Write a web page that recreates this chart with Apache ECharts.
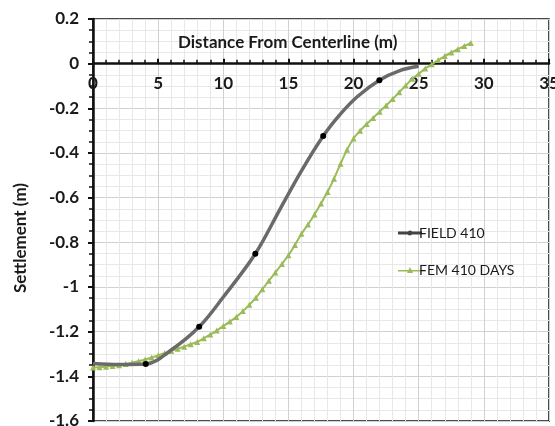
<!DOCTYPE html>
<html>
<head>
<meta charset="utf-8">
<script src="https://cdn.jsdelivr.net/npm/echarts@6/dist/echarts.min.js"></script>
<style>html,body{margin:0;padding:0;background:#fff}#c{width:555px;height:426px}</style>
</head>
<body>
<div id="c"></div>
<script>
var xTicks = [0, 5, 10, 15, 20, 25, 30, 35];
var yTicks = [0.2, 0, -0.2, -0.4, -0.6, -0.8, -1, -1.2, -1.4, -1.6];

var fieldX = [0, 2, 4.05, 6, 8.15, 10, 12.46, 14.38, 16, 17.67, 19, 20.28, 21.98, 23.5, 25.0];
var fieldY = [-1.342, -1.347, -1.345, -1.282, -1.178, -1.045, -0.851, -0.649, -0.480, -0.324, -0.225, -0.148, -0.074, -0.032, -0.012];
var fieldDot = [false, false, true, false, true, false, true, false, false, true, false, false, true, false, false];

var femX = [0, 0.5, 1, 1.5, 2, 2.5, 3, 3.5, 4, 4.5, 5, 5.5, 6, 6.5, 7, 7.5, 8, 8.5, 9, 9.5,
            10, 10.5, 11, 11.5, 12, 12.5, 13, 13.5, 14, 14.5, 15, 15.5, 16, 16.5, 17, 17.5, 18, 18.5, 19, 19.5,
            20, 20.5, 21, 21.5, 22, 22.5, 23, 23.5, 24, 24.5, 25, 25.5, 26, 26.5, 27, 27.5, 28, 28.5, 29];
var femY = [-1.360, -1.359, -1.357, -1.354, -1.350, -1.345, -1.339, -1.332, -1.325, -1.316, -1.306, -1.296, -1.287, -1.277, -1.267, -1.256, -1.246, -1.230, -1.213, -1.195,
            -1.175, -1.155, -1.134, -1.108, -1.080, -1.048, -1.010, -0.972, -0.935, -0.897, -0.858, -0.812, -0.762, -0.720, -0.675, -0.626, -0.575, -0.515, -0.448, -0.385,
            -0.335, -0.300, -0.270, -0.243, -0.215, -0.187, -0.158, -0.128, -0.098, -0.068, -0.045, -0.022, -0.003, 0.016, 0.034, 0.050, 0.065, 0.079, 0.093];

var fieldData = fieldX.map(function (x, i) {
  var d = { value: [x, fieldY[i]] };
  if (!fieldDot[i]) d.symbol = 'none';
  return d;
});
var femData = femX.map(function (x, i) { return [x, femY[i]]; });

var FONT = 'Lato';
var GRID_TOP = 19, GRID_BOTTOM = 5, H = 426;
var plotH = H - GRID_TOP - GRID_BOTTOM;
var zeroOffset = -plotH * (0 - (-1.6)) / (0.2 - (-1.6));

var chart = echarts.init(document.getElementById('c'), null, { renderer: 'canvas' });
chart.setOption({
  animation: false,
  backgroundColor: '#ffffff',
  title: {
    text: 'Distance From Centerline (m)',
    left: 173, top: 29,
    textStyle: { fontFamily: FONT, fontSize: 17, fontWeight: 'bold', color: '#1a1a1a' }
  },
  graphic: [{
    type: 'text', x: 21, y: 238, rotation: Math.PI / 2,
    style: { text: 'Settlement (m)', font: 'bold 17px Lato', fill: '#1a1a1a', textAlign: 'center', textVerticalAlign: 'middle' }
  }],
  legend: {
    orient: 'vertical', left: 393, top: 221, itemGap: 23, itemWidth: 24, itemHeight: 16,
    textStyle: { fontFamily: FONT, fontSize: 14, color: '#1a1a1a', padding: [0, 0, 0, -8] },
    data: [
      { name: 'FIELD 410', icon: 'path://M0,7 L24,7 L24,10 L0,10 Z M12,6 A2.5,2.5 0 1 1 11.99,6 Z', itemStyle: { color: '#444' } },
      { name: 'FEM 410 DAYS', icon: 'path://M0,8 L24,8 L24,9.5 L0,9.5 Z M12,5 L15,11 L9,11 Z' }
    ]
  },
  grid: { left: 93, right: 6, top: GRID_TOP, bottom: GRID_BOTTOM, show: true, borderColor: '#111', borderWidth: 1.5, outerBoundsMode: 'none', containLabel: false },
  xAxis: {
    type: 'value', min: xTicks[0], max: xTicks[xTicks.length - 1], interval: 5,
    position: 'bottom', offset: zeroOffset,
    axisLine: { onZero: false, lineStyle: { color: '#111', width: 2.5 } },
    axisTick: { show: true, inside: true, length: 5, lineStyle: { color: '#111', width: 2 } },
    minorTick: { show: true, splitNumber: 5, length: 4, lineStyle: { color: '#111', width: 1.5 } },
    axisLabel: { fontFamily: FONT, fontSize: 17, fontWeight: 'bold', color: '#1a1a1a', margin: 11 },
    splitLine: { show: true, lineStyle: { color: '#d0d0d0', width: 1 } },
    minorSplitLine: { show: true, lineStyle: { color: '#e8e8e8', width: 1 } }
  },
  yAxis: {
    type: 'value', min: -1.6, max: 0.2, interval: 0.2,
    axisLine: { onZero: false, lineStyle: { color: '#111', width: 2.5 } },
    axisTick: { show: true, inside: false, length: 5, lineStyle: { color: '#111', width: 2 } },
    minorTick: { show: true, splitNumber: 4, length: 4, lineStyle: { color: '#111', width: 1.5 } },
    axisLabel: { fontFamily: FONT, fontSize: 17, fontWeight: 'bold', color: '#1a1a1a', margin: 14 },
    splitLine: { show: true, lineStyle: { color: '#d0d0d0', width: 1 } },
    minorSplitLine: { show: true, lineStyle: { color: '#e8e8e8', width: 1 } }
  },
  series: [{
    name: 'FIELD 410', type: 'line', data: fieldData, smooth: 0.35,
    symbol: 'circle', symbolSize: 6, showAllSymbol: true,
    lineStyle: { color: '#6a6a6a', width: 3.5 },
    itemStyle: { color: '#000' }, z: 3
  }, {
    name: 'FEM 410 DAYS', type: 'line', data: femData, smooth: 0.2,
    symbol: 'triangle', symbolSize: 6, showAllSymbol: true,
    lineStyle: { color: '#9bbb59', width: 2 },
    itemStyle: { color: '#9bbb59' }, z: 2
  }]
});
</script>
</body>
</html>
